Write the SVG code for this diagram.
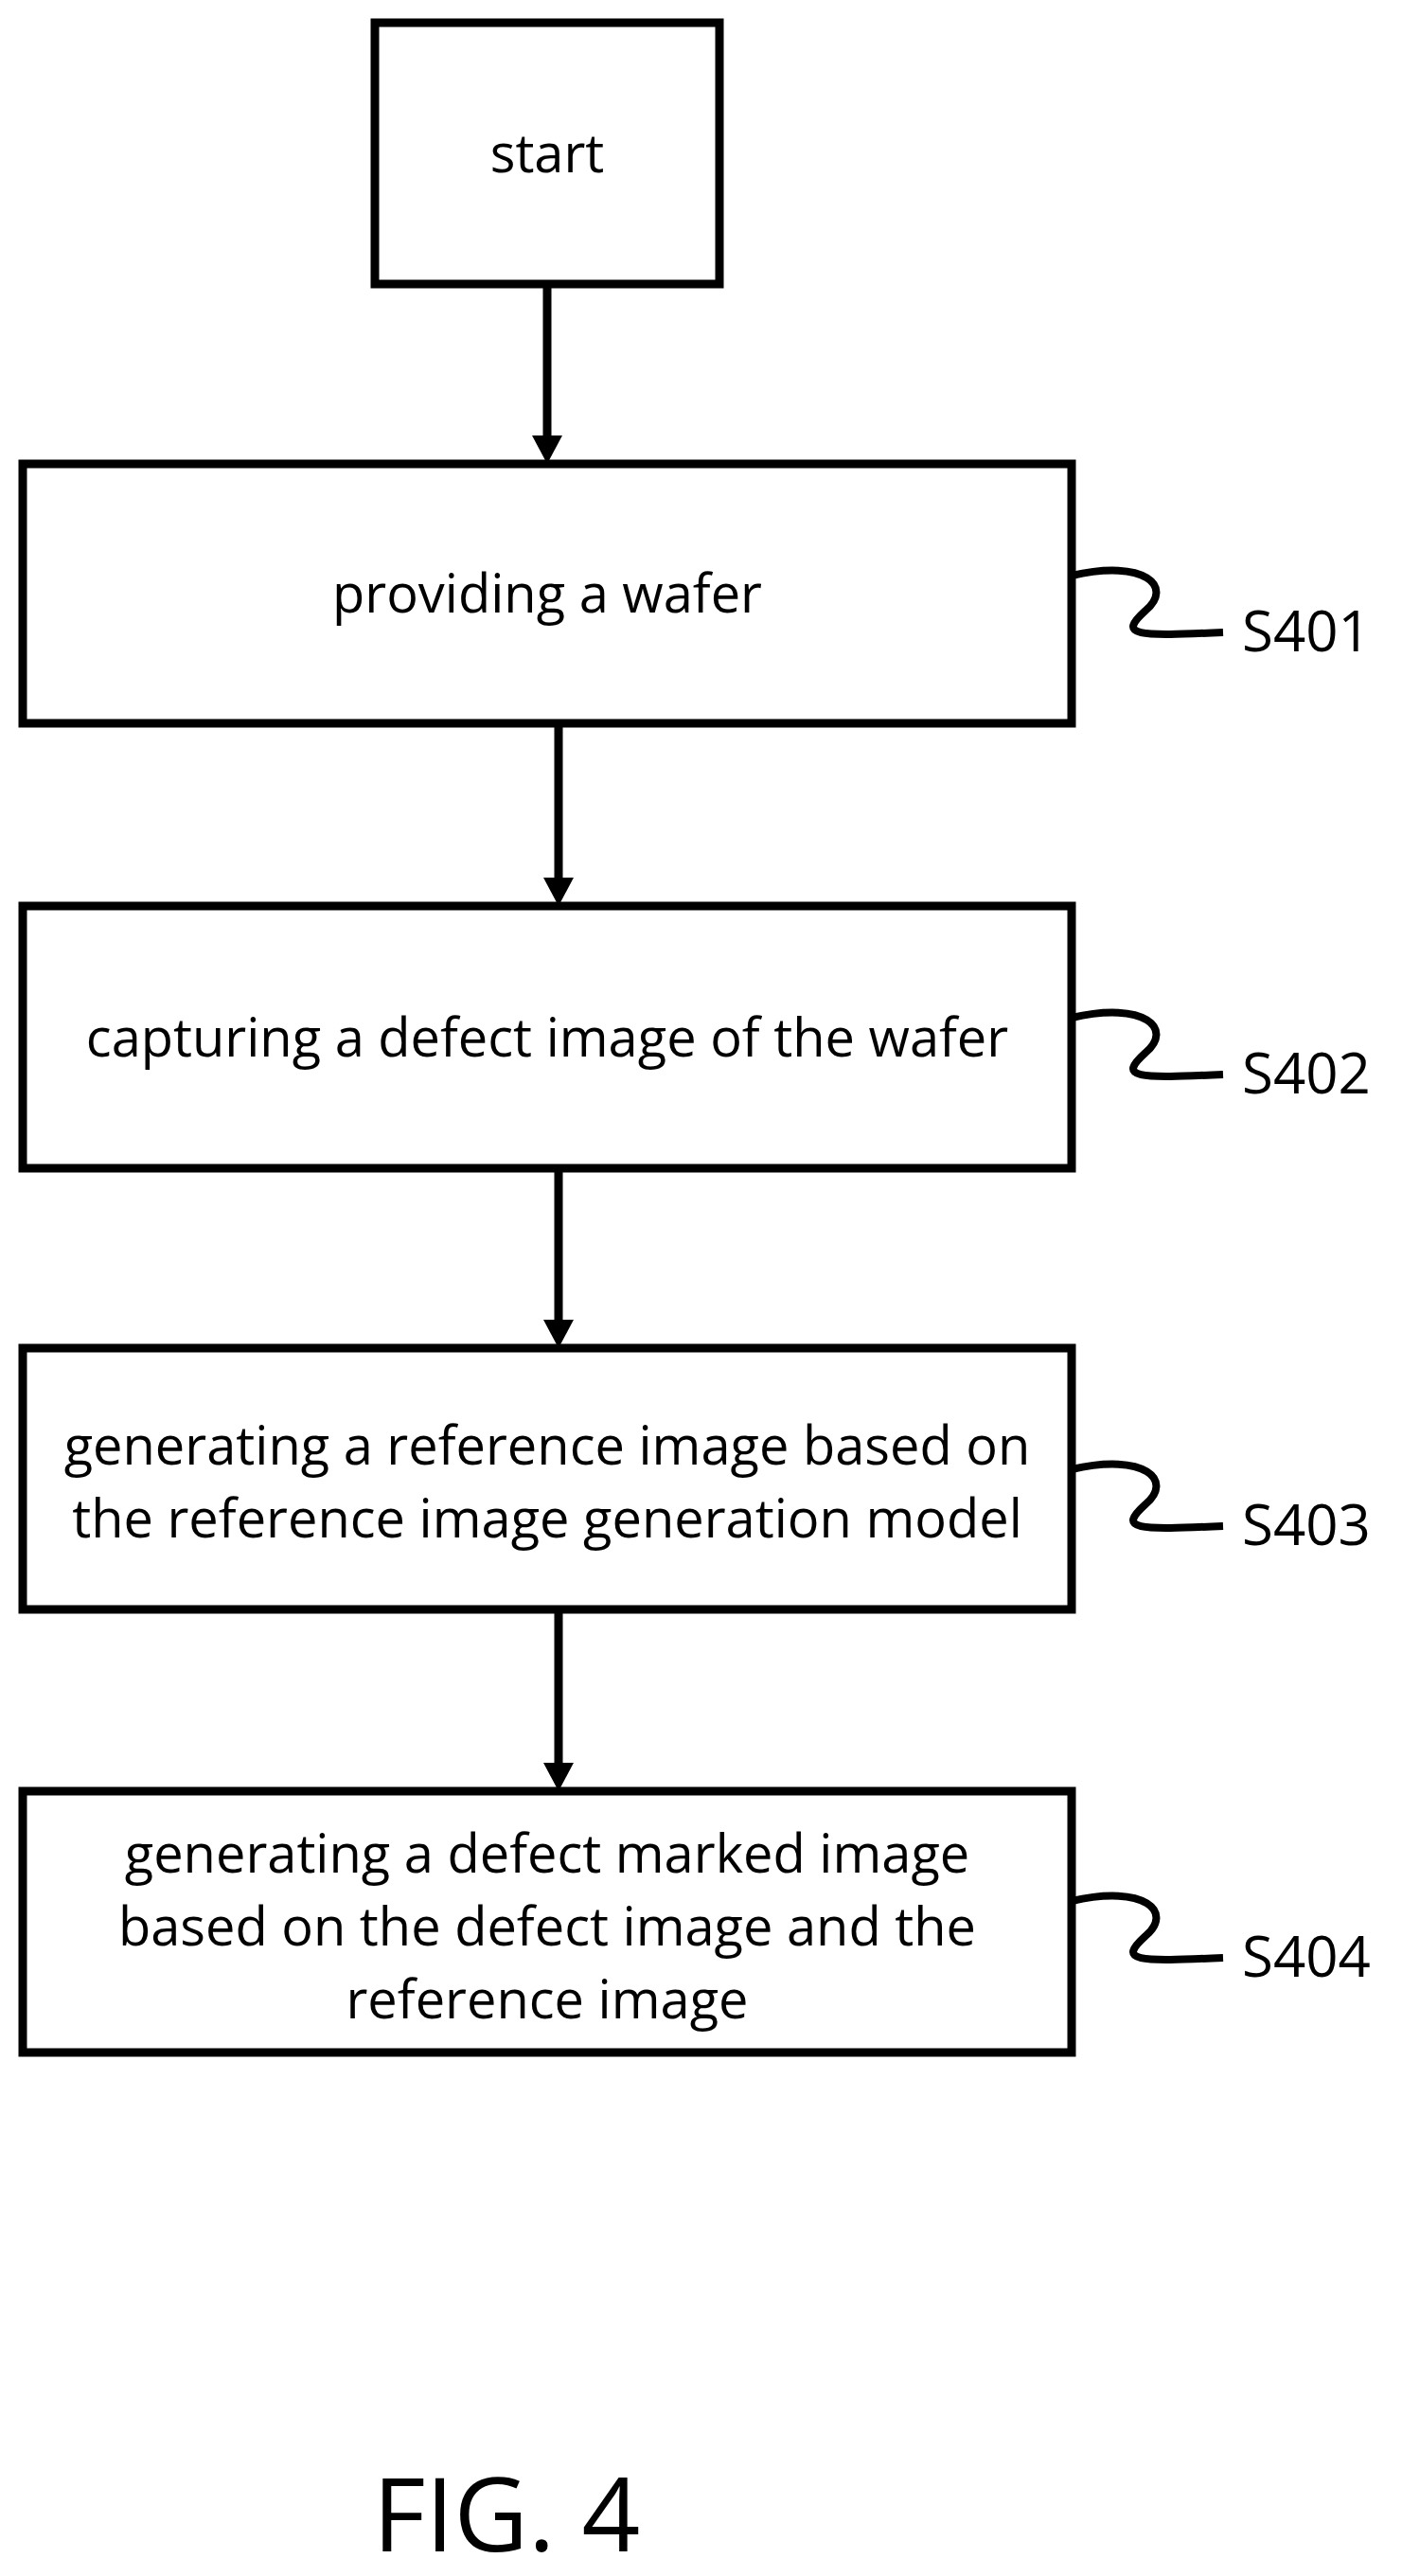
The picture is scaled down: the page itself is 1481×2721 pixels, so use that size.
<svg xmlns="http://www.w3.org/2000/svg" width="1481" height="2721" viewBox="0 0 1481 2721">
<defs>
<style>
.b{fill:#fff;stroke:#000;stroke-width:9}
.t{font-family:"Open Sans","Liberation Sans",sans-serif;font-size:56px;text-anchor:middle;fill:#000}
.l{font-family:"Open Sans","Liberation Sans",sans-serif;font-size:60px;fill:#000}
.c{fill:none;stroke:#000;stroke-width:9}
.s{fill:none;stroke:#000;stroke-width:8}
</style>
</defs>
<rect width="1481" height="2721" fill="#fff"/>
<g id="connectors">
<line class="c" x1="578" y1="300" x2="578" y2="462"/><path d="M562,460L578,490L594,460z"/>
<line class="c" x1="590" y1="764" x2="590" y2="929"/><path d="M574,927L590,957L606,927z"/>
<line class="c" x1="590" y1="1234" x2="590" y2="1396"/><path d="M574,1394L590,1424L606,1394z"/>
<line class="c" x1="590" y1="1700" x2="590" y2="1864"/><path d="M574,1862L590,1892L606,1862z"/>
</g>
<g id="start"><rect class="b" x="396" y="24" width="364" height="276"/><text class="t" x="578" y="182">start</text></g>
<g id="s401"><rect class="b" x="24" y="490" width="1108" height="274"/><text class="t" x="578" y="647">providing a wafer</text>
<path class="s" d="M1132,608C1210,590 1240,620 1210,645C1180,672 1200,672 1292,668"/><text class="l" x="1312" y="688">S401</text></g>
<g id="s402"><rect class="b" x="24" y="957" width="1108" height="277"/><text class="t" x="578" y="1116">capturing a defect image of the wafer</text>
<path class="s" d="M1132,1075C1210,1057 1240,1087 1210,1112C1180,1139 1200,1139 1292,1135"/><text class="l" x="1312" y="1155">S402</text></g>
<g id="s403"><rect class="b" x="24" y="1424" width="1108" height="276"/><text class="t" x="578" y="1547">generating a reference image based on</text><text class="t" x="578" y="1624">the reference image generation model</text>
<path class="s" d="M1132,1552C1210,1534 1240,1564 1210,1589C1180,1616 1200,1616 1292,1612"/><text class="l" x="1312" y="1632">S403</text></g>
<g id="s404"><rect class="b" x="24" y="1892" width="1108" height="276"/><text class="t" x="578" y="1978">generating a defect marked image</text><text class="t" x="578" y="2055">based on the defect image and the</text><text class="t" x="578" y="2132">reference image</text>
<path class="s" d="M1132,2008C1210,1990 1240,2020 1210,2045C1180,2072 1200,2072 1292,2068"/><text class="l" x="1312" y="2088">S404</text></g>
<text x="535" y="2695" style="font-family:'Open Sans','Liberation Sans',sans-serif;font-size:108px;text-anchor:middle">FIG. 4</text>
</svg>
